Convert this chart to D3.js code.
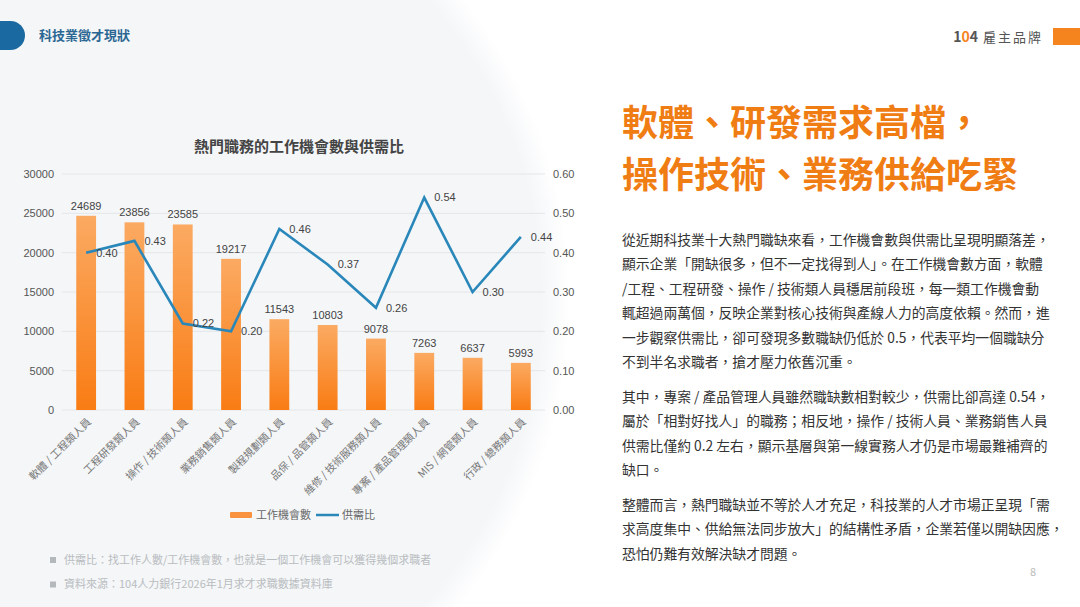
<!DOCTYPE html>
<html>
<head>
<meta charset="utf-8">
<script src="https://cdn.jsdelivr.net/npm/d3@7"></script>
<style>
  body { margin: 0; background: #fff; }
  svg { display: block; font-family: "Noto Sans CJK TC", "Noto Sans", sans-serif; }
</style>
</head>
<body>
<svg id="page" width="1080" height="607"></svg>
<script>
// chart data
let categories = [
  "軟體 / 工程類人員", "工程研發類人員", "操作 / 技術類人員", "業務銷售類人員",
  "製程規劃類人員", "品保 / 品管類人員", "維修 / 技術服務類人員",
  "專案 / 產品管理類人員", "MIS / 網管類人員", "行政 / 總務類人員"
];
let jobCounts = [24689, 23856, 23585, 19217, 11543, 10803, 9078, 7263, 6637, 5993];
let ratios = [0.40, 0.43, 0.22, 0.20, 0.46, 0.37, 0.26, 0.54, 0.30, 0.44];
let leftTicks = [0, 5000, 10000, 15000, 20000, 25000, 30000];
let rightTicks = [0, 0.1, 0.2, 0.3, 0.4, 0.5, 0.6];

let footnotes = [
  "供需比：找工作人數/工作機會數，也就是一個工作機會可以獲得幾個求職者",
  "資料來源：104人力銀行2026年1月求才求職數據資料庫"
];
let headline = ["軟體、研發需求高檔，", "操作技術、業務供給吃緊"];
let paragraphs = [
  [
    "從近期科技業十大熱門職缺來看，工作機會數與供需比呈現明顯落差，",
    "顯示企業「開缺很多，但不一定找得到人」。在工作機會數方面，軟體",
    "/工程、工程研發、操作 / 技術類人員穩居前段班，每一類工作機會動",
    "輒超過兩萬個，反映企業對核心技術與產線人力的高度依賴。然而，進",
    "一步觀察供需比，卻可發現多數職缺仍低於 0.5，代表平均一個職缺分",
    "不到半名求職者，搶才壓力依舊沉重。"
  ],
  [
    "其中，專案 / 產品管理人員雖然職缺數相對較少，供需比卻高達 0.54，",
    "屬於「相對好找人」的職務；相反地，操作 / 技術人員、業務銷售人員",
    "供需比僅約 0.2 左右，顯示基層與第一線實務人才仍是市場最難補齊的",
    "缺口。"
  ],
  [
    "整體而言，熱門職缺並不等於人才充足，科技業的人才市場正呈現「需",
    "求高度集中、供給無法同步放大」的結構性矛盾，企業若僅以開缺因應，",
    "恐怕仍難有效解決缺才問題。"
  ]
];

let svg = d3.select("#page");
let defs = svg.append("defs");

// soft grey panel behind the chart
let panelGrad = defs.append("radialGradient").attr("id", "panel");
panelGrad.append("stop").attr("offset", "0%").attr("stop-color", "#f4f6f8");
panelGrad.append("stop").attr("offset", "94%").attr("stop-color", "#f4f6f8");
panelGrad.append("stop").attr("offset", "100%").attr("stop-color", "#f4f6f8").attr("stop-opacity", 0);

let barGrad = defs.append("linearGradient")
  .attr("id", "barGrad").attr("x1", 0).attr("y1", 0).attr("x2", 0).attr("y2", 1);
barGrad.append("stop").attr("offset", "0%").attr("stop-color", "#fbaa62");
barGrad.append("stop").attr("offset", "100%").attr("stop-color", "#f97c14");

svg.append("rect").attr("width", 1080).attr("height", 607).attr("fill", "#fff");
svg.append("circle").attr("cx", 90).attr("cy", 300).attr("r", 480).attr("fill", "url(#panel)");

// header
svg.append("rect")
  .attr("x", -20).attr("y", 21).attr("width", 45).attr("height", 29).attr("rx", 14.5)
  .attr("fill", "#1a69a0");
svg.append("text")
  .attr("x", 39).attr("y", 40)
  .text("科技業徵才現狀")
  .style("fill", "#2b6793").style("font-size", "13px").style("font-weight", "bold");

let brand = svg.append("text").attr("x", 1043).attr("y", 42).attr("text-anchor", "end");
brand.append("tspan").text("1").style("fill", "#555").style("font-weight", "bold").style("font-size", "14px");
brand.append("tspan").text("0").style("fill", "#f5841f").style("font-weight", "bold").style("font-size", "14px");
brand.append("tspan").text("4").style("fill", "#555").style("font-weight", "bold").style("font-size", "14px");
brand.append("tspan").text(" 雇主品牌").style("fill", "#555").style("font-size", "13px").style("letter-spacing", "2px");
svg.append("rect")
  .attr("x", 1053).attr("y", 28).attr("width", 27).attr("height", 17)
  .attr("fill", "#f5841f");

// chart
let plotTop = 174, plotBottom = 410, plotLeft = 62, plotRight = 545;

let xScale = d3.scalePoint()
  .domain(categories)
  .range([plotLeft, plotRight])
  .padding(0.5);
let barWidth = xScale.step() * 0.41;

let yLeft = d3.scaleLinear().domain([0, 30000]).range([plotBottom, plotTop]);
let yRight = d3.scaleLinear().domain([0, 0.6]).range([plotBottom, plotTop]);

svg.append("text")
  .attr("x", 299).attr("y", 152)
  .attr("text-anchor", "middle")
  .text("熱門職務的工作機會數與供需比")
  .style("fill", "#444").style("font-size", "15px").style("font-weight", "bold");

// grid lines
svg.append("g")
  .selectAll("line")
  .data(leftTicks)
  .enter()
  .append("line")
  .attr("x1", plotLeft).attr("x2", plotRight)
  .attr("y1", (d) => yLeft(d)).attr("y2", (d) => yLeft(d))
  .attr("stroke", "#e4e6e8").attr("stroke-width", 1);

// left axis
let leftAxis = d3.axisLeft(yLeft).tickValues(leftTicks).tickSize(0).tickPadding(8)
  .tickFormat(d3.format("d"));
let gl = svg.append("g")
  .attr("transform", `translate(${plotLeft},0)`)
  .call(leftAxis);
gl.select(".domain").remove();
gl.selectAll("text").style("fill", "#555").style("font-size", "11px").style("font-family", "Liberation Sans, Arial, sans-serif");

// right axis
let rightAxis = d3.axisRight(yRight).tickValues(rightTicks).tickSize(0).tickPadding(8)
  .tickFormat(d3.format(".2f"));
let gr = svg.append("g")
  .attr("transform", `translate(${plotRight},0)`)
  .call(rightAxis);
gr.select(".domain").remove();
gr.selectAll("text").style("fill", "#555").style("font-size", "11px").style("font-family", "Liberation Sans, Arial, sans-serif");

// bars
svg.append("g")
  .selectAll("rect")
  .data(jobCounts)
  .enter()
  .append("rect")
  .attr("x", (d, i) => xScale(categories[i]) - barWidth / 2)
  .attr("y", (d) => yLeft(d))
  .attr("width", barWidth)
  .attr("height", (d) => plotBottom - yLeft(d))
  .attr("fill", "url(#barGrad)");

svg.append("g")
  .selectAll("text")
  .data(jobCounts)
  .enter()
  .append("text")
  .attr("x", (d, i) => xScale(categories[i]))
  .attr("y", (d) => yLeft(d) - 6)
  .attr("text-anchor", "middle")
  .text((d) => d)
  .style("fill", "#444").style("font-size", "11px")
  .style("font-family", "Liberation Sans, Arial, sans-serif");

// ratio line
let ratioLine = d3.line()
  .x((d, i) => xScale(categories[i]))
  .y((d) => yRight(d));

svg.append("path")
  .datum(ratios)
  .attr("d", ratioLine)
  .attr("fill", "none")
  .attr("stroke", "#2a87ba")
  .attr("stroke-width", 2.6)
  .attr("stroke-linejoin", "miter");

svg.append("g")
  .selectAll("text")
  .data(ratios)
  .enter()
  .append("text")
  .attr("x", (d, i) => xScale(categories[i]) + 10)
  .attr("y", (d) => yRight(d))
  .attr("dy", "0.35em")
  .text((d) => d3.format(".2f")(d))
  .style("fill", "#444").style("font-size", "11px")
  .style("font-family", "Liberation Sans, Arial, sans-serif");

// category labels
svg.append("g")
  .selectAll("text")
  .data(categories)
  .enter()
  .append("text")
  .attr("transform", (d) => `translate(${xScale(d) + 3},${plotBottom + 10}) rotate(-45)`)
  .attr("text-anchor", "end")
  .attr("dy", "0.35em")
  .text((d) => d)
  .style("fill", "#777").style("font-size", "10.5px");

// legend
svg.append("rect")
  .attr("x", 230).attr("y", 512).attr("width", 22).attr("height", 6).attr("rx", 1)
  .attr("fill", "#f9923e");
svg.append("text")
  .attr("x", 256).attr("y", 515).attr("dy", "0.35em")
  .text("工作機會數")
  .style("fill", "#666").style("font-size", "11px");
svg.append("line")
  .attr("x1", 316).attr("x2", 339).attr("y1", 515).attr("y2", 515)
  .attr("stroke", "#2a87ba").attr("stroke-width", 2.5);
svg.append("text")
  .attr("x", 342).attr("y", 515).attr("dy", "0.35em")
  .text("供需比")
  .style("fill", "#666").style("font-size", "11px");

// footnotes
let notes = svg.append("g")
  .selectAll("g")
  .data(footnotes)
  .enter()
  .append("g")
  .attr("transform", (d, i) => `translate(0,${560 + i * 24.5})`);
notes.append("rect")
  .attr("x", 50).attr("y", -3).attr("width", 6).attr("height", 6)
  .attr("fill", "#b5b8bb");
notes.append("text")
  .attr("x", 64).attr("dy", "0.35em")
  .text((d) => d)
  .style("fill", "#b9bcbf").style("font-size", "11px");

// right column: headline
svg.append("g")
  .selectAll("text")
  .data(headline)
  .enter()
  .append("text")
  .attr("x", 622)
  .attr("y", (d, i) => 136 + i * 52)
  .text((d) => d)
  .style("fill", "#f07d14").style("font-size", "36px").style("font-weight", "bold");

// right column: body text
let paraStart = [245, 402, 510];
let lineGap = 24.4;
paragraphs.forEach(function (lines, p) {
  svg.append("g")
    .selectAll("text")
    .data(lines)
    .enter()
    .append("text")
    .attr("x", 622)
    .attr("y", (d, i) => paraStart[p] + i * lineGap)
    .text((d) => d)
    .style("fill", "#333").style("font-size", "13.8px");
});

svg.append("text")
  .attr("x", 1036).attr("y", 576)
  .attr("text-anchor", "end")
  .text("8")
  .style("fill", "#bbb").style("font-size", "11px");
</script>
</body>
</html>
